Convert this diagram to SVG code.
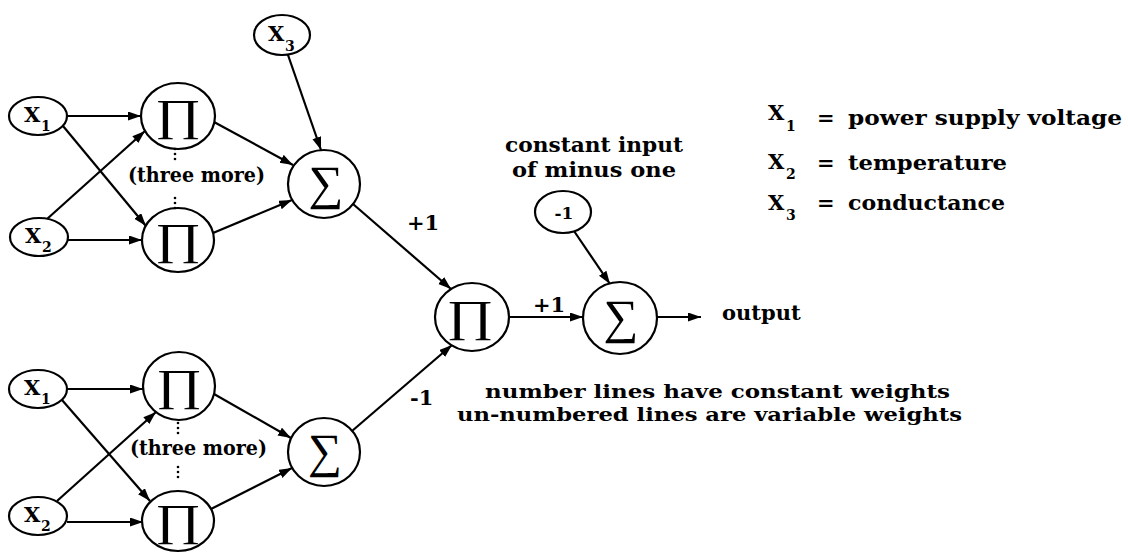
<svg xmlns="http://www.w3.org/2000/svg" width="1128" height="554" viewBox="0 0 1128 554">
<style>
.node{fill:#fff;stroke:#000;stroke-width:2.2}
.edge{fill:none;stroke:#000;stroke-width:2.2;marker-end:url(#arr)}
.t{font-family:"DejaVu Serif","Liberation Serif",serif;font-weight:bold;font-size:21px;fill:#000}
.x{font-family:"DejaVu Serif","Liberation Serif",serif;font-weight:bold;font-size:21px;fill:#000}
.sub{font-family:"DejaVu Serif","Liberation Serif",serif;font-weight:bold;font-size:14px;fill:#000}
.pi{font-family:"Liberation Serif","DejaVu Serif",serif;font-weight:normal;font-size:44px;fill:#000;text-anchor:middle}
.sg{font-family:"Liberation Serif","DejaVu Serif",serif;font-weight:normal;font-size:48px;fill:#000;text-anchor:middle}
.dot{fill:#000}
</style>
<defs>
<marker id="arr" markerUnits="userSpaceOnUse" markerWidth="14" markerHeight="10" refX="13" refY="4.5" orient="auto">
<path d="M0,0 L13,4.5 L0,9 Z" fill="#000"/>
</marker>
</defs>
<rect width="1128" height="554" fill="#fff"/>

<g id="connectors">
<path class="edge" d="M67,116 L141,116"/>
<path class="edge" d="M63,126 L146,226"/>
<path class="edge" d="M47,219 L145,131"/>
<path class="edge" d="M68,240 L142,240"/>
<path class="edge" d="M214,122 L293,165"/>
<path class="edge" d="M213,233 L292,200"/>
<path class="edge" d="M288,55 L321,150"/>
<path class="edge" d="M353,204 L451,289"/>
<path class="edge" d="M67,389 L143,389"/>
<path class="edge" d="M62,400 L150,501"/>
<path class="edge" d="M57,501 L156,412"/>
<path class="edge" d="M67,522 L143,522"/>
<path class="edge" d="M214,394 L291,438"/>
<path class="edge" d="M211,509 L292,468"/>
<path class="edge" d="M352,431 L452,345"/>
<path class="edge" d="M509,317 L583,317"/>
<path class="edge" d="M574,231 L610,284"/>
<path class="edge" d="M657,317 L701,317"/>
<text class="t" x="407" y="230">+1</text>
<text class="t" x="410" y="405">-1</text>
<text class="t" x="533" y="312">+1</text>
</g>

<g id="x3"><ellipse class="node" cx="282" cy="35" rx="28" ry="20"/><text class="x" x="268" y="41">X</text><text class="sub" x="285" y="51">3</text></g>
<g id="x1a"><ellipse class="node" cx="38" cy="116" rx="29" ry="19"/><text class="x" x="24" y="122">X</text><text class="sub" x="41" y="131">1</text></g>
<g id="x2a"><ellipse class="node" cx="39" cy="237" rx="29" ry="19"/><text class="x" x="25" y="243">X</text><text class="sub" x="42" y="252">2</text></g>
<g id="pia1"><ellipse class="node" cx="178" cy="116" rx="37" ry="33"/><text class="pi" x="178" y="130" textLength="46" lengthAdjust="spacingAndGlyphs">∏</text></g>
<g id="pia2"><ellipse class="node" cx="178" cy="240" rx="36" ry="32"/><text class="pi" x="178" y="254" textLength="46" lengthAdjust="spacingAndGlyphs">∏</text></g>
<g id="more1"><text class="t" x="128" y="182" textLength="137" lengthAdjust="spacingAndGlyphs">(three more)</text>
<circle class="dot" cx="175" cy="149" r="1.3"/><circle class="dot" cx="175" cy="154" r="1.3"/><circle class="dot" cx="175" cy="159" r="1.3"/>
<circle class="dot" cx="175" cy="198" r="1.3"/><circle class="dot" cx="175" cy="203" r="1.3"/><circle class="dot" cx="175" cy="208" r="1.3"/></g>
<g id="siga"><ellipse class="node" cx="324" cy="184" rx="36" ry="34"/><text class="sg" x="326" y="199" textLength="35" lengthAdjust="spacingAndGlyphs">∑</text></g>

<g id="x1b"><ellipse class="node" cx="38" cy="389" rx="29" ry="19"/><text class="x" x="24" y="395">X</text><text class="sub" x="41" y="404">1</text></g>
<g id="x2b"><ellipse class="node" cx="38" cy="516" rx="29" ry="19"/><text class="x" x="24" y="522">X</text><text class="sub" x="41" y="531">2</text></g>
<g id="pib1"><ellipse class="node" cx="179" cy="386" rx="36" ry="34"/><text class="pi" x="179" y="400" textLength="46" lengthAdjust="spacingAndGlyphs">∏</text></g>
<g id="pib2"><ellipse class="node" cx="178" cy="521" rx="36" ry="30"/><text class="pi" x="178" y="535" textLength="46" lengthAdjust="spacingAndGlyphs">∏</text></g>
<g id="more2"><text class="t" x="130" y="455" textLength="137" lengthAdjust="spacingAndGlyphs">(three more)</text>
<circle class="dot" cx="178" cy="423" r="1.3"/><circle class="dot" cx="178" cy="428" r="1.3"/><circle class="dot" cx="178" cy="433" r="1.3"/>
<circle class="dot" cx="178" cy="467" r="1.3"/><circle class="dot" cx="178" cy="472" r="1.3"/><circle class="dot" cx="178" cy="477" r="1.3"/></g>
<g id="sigb"><ellipse class="node" cx="324" cy="452" rx="36" ry="34"/><text class="sg" x="325" y="467" textLength="34" lengthAdjust="spacingAndGlyphs">∑</text></g>

<g id="pim"><ellipse class="node" cx="472" cy="317" rx="37" ry="34"/><text class="pi" x="470" y="331" textLength="47" lengthAdjust="spacingAndGlyphs">∏</text></g>
<g id="neg1"><ellipse class="node" cx="563" cy="212" rx="28" ry="21"/><text class="sub" x="564" y="219" style="font-size:17px" text-anchor="middle">-1</text></g>
<g id="sigr"><ellipse class="node" cx="620" cy="318" rx="37" ry="36"/><text class="sg" x="621" y="333" textLength="35" lengthAdjust="spacingAndGlyphs">∑</text></g>
<g id="out"><text class="t" x="722" y="320">output</text></g>

<g id="note-const">
<text class="t" x="505" y="152" textLength="178" lengthAdjust="spacingAndGlyphs">constant input</text>
<text class="t" x="512" y="177" textLength="164" lengthAdjust="spacingAndGlyphs">of minus one</text>
</g>

<g id="legend">
<text class="x" x="768" y="120">X</text><text class="sub" x="786" y="131">1</text>
<text class="t" x="817" y="125">=</text>
<text class="t" x="848" y="125" textLength="274" lengthAdjust="spacingAndGlyphs">power supply voltage</text>
<text class="x" x="768" y="169">X</text><text class="sub" x="786" y="179">2</text>
<text class="t" x="817" y="170">=</text>
<text class="t" x="848" y="170" textLength="159" lengthAdjust="spacingAndGlyphs">temperature</text>
<text class="x" x="768" y="210">X</text><text class="sub" x="786" y="220">3</text>
<text class="t" x="817" y="210">=</text>
<text class="t" x="848" y="210" textLength="157" lengthAdjust="spacingAndGlyphs">conductance</text>
</g>

<g id="note-weights">
<text class="t" x="485" y="398" style="font-size:19px" textLength="465" lengthAdjust="spacingAndGlyphs">number lines have constant weights</text>
<text class="t" x="457" y="421" style="font-size:19px" textLength="505" lengthAdjust="spacingAndGlyphs">un-numbered lines are variable weights</text>
</g>
</svg>
